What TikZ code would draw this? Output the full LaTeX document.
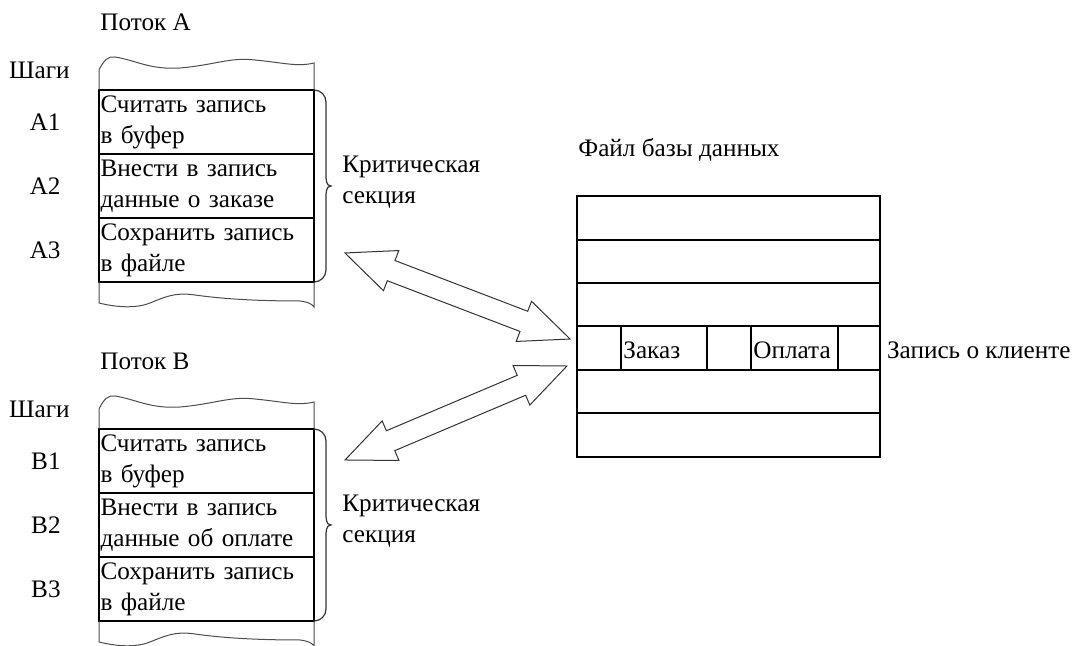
\documentclass[tikz,border=0pt]{standalone}
\usepackage{fontspec}
\setmainfont{Liberation Serif}
\usetikzlibrary{positioning, shapes.arrows}

\tikzset{
  row/.style={draw, line width=0.7pt, anchor=north west, outer sep=0pt,
    minimum width=107.5pt, minimum height=32pt, text width=106pt,
    align=left, inner sep=0.75pt},
  lbl/.style={inner sep=0pt, align=left},
  wave/.style={draw=black!70, line width=0.5pt},
  brc/.style={draw=black!80, line width=0.6pt},
  dbline/.style={line width=0.7pt},
  dblarrow/.style={double arrow, draw=black!80, line width=0.5pt,
    minimum height=120.5pt, inner sep=5.15pt,
    double arrow head extend=5.35pt, double arrow tip angle=47},
}

\begin{document}
\begin{tikzpicture}[x=0.5pt, y=-0.5pt, font=\fontsize{12.6}{15.5}\selectfont]
\useasboundingbox (0,0) rectangle (1073,646);

% Поток A
\node[lbl, anchor=west] (potA) at (100,22) {Поток A};
\node[lbl, anchor=east] (shagA) at (70,70) {Шаги};
\node[row] (a1) at (99,90) {Считать запись\\в буфер};
\node[row, below=0pt of a1] (a2) {Внести в запись\\данные о заказе};
\node[row, below=0pt of a2] (a3) {Сохранить запись\\в файле};
\node[lbl, left=19pt of a1] (sa1) {A1};
\node[lbl, left=19pt of a2] (sa2) {A2};
\node[lbl, left=19pt of a3] (sa3) {A3};
\draw[wave] (a1.north west) -- (99,70) .. controls (104,60) and (108,56) .. (115,57)
  .. controls (135,60) and (150,70) .. (180,68) .. controls (215,65) and (230,57) .. (255,60)
  .. controls (285,63) and (298,67) .. (314,63) -- (a1.north east);
\draw[wave] (a3.south west) -- (99,303) .. controls (115,307) and (135,309) .. (150,303)
  .. controls (165,297) and (175,292) .. (195,295) .. controls (230,300) and (270,301) .. (300,301)
  .. controls (308,302) and (312,304) .. (314,307) -- (a3.south east);
\draw[brc] (a1.north east) to[out=0,in=90] ++(12,12) -- ++(0,72)
  to[out=-90,in=180] ++(5,12) to[out=180,in=90] ++(-5,12) -- ++(0,72)
  to[out=-90,in=0] ++(-12,12);
\node[lbl, anchor=west] (krA) at (342,182) {Критическая\\секция};

% Поток B
\node[lbl, anchor=west] (potB) at (100,361) {Поток B};
\node[lbl, anchor=east] (shagB) at (70,409) {Шаги};
\node[row] (b1) at (99,429) {Считать запись\\в буфер};
\node[row, below=0pt of b1] (b2) {Внести в запись\\данные об оплате};
\node[row, below=0pt of b2] (b3) {Сохранить запись\\в файле};
\node[lbl, left=19pt of b1] (sb1) {B1};
\node[lbl, left=19pt of b2] (sb2) {B2};
\node[lbl, left=19pt of b3] (sb3) {B3};
\begin{scope}[shift={(0,339)}]
\draw[wave] (99,90) -- (99,70) .. controls (104,60) and (108,56) .. (115,57)
  .. controls (135,60) and (150,70) .. (180,68) .. controls (215,65) and (230,57) .. (255,60)
  .. controls (285,63) and (298,67) .. (314,63) -- (314,90);
\draw[wave] (99,282) -- (99,303) .. controls (115,307) and (135,309) .. (150,303)
  .. controls (165,297) and (175,292) .. (195,295) .. controls (230,300) and (270,301) .. (300,301)
  .. controls (308,302) and (312,304) .. (314,307) -- (314,282);
\end{scope}
\draw[brc] (b1.north east) to[out=0,in=90] ++(12,12) -- ++(0,72)
  to[out=-90,in=180] ++(5,12) to[out=180,in=90] ++(-5,12) -- ++(0,72)
  to[out=-90,in=0] ++(-12,12);
\node[lbl, anchor=west] (krB) at (342,521) {Критическая\\секция};

% Файл базы данных
\node[lbl, anchor=west] (fdb) at (578,150) {Файл базы данных};
\draw[dbline] (577,196) rectangle (880,457);
\foreach \y in {240,283,326,370,413}
  \draw[dbline] (577,\y) -- (880,\y);
\foreach \x in {621,707,751,838}
  \draw[dbline] (\x,326) -- (\x,370);
\node[lbl, anchor=west] (zak) at (623,350) {Заказ};
\node[lbl, anchor=west] (opl) at (753,350) {Оплата};
\node[lbl, anchor=east] (zap) at (1071,350) {Запись о клиенте};

% стрелки
\coordinate (crA) at (345,253);
\coordinate (dbA) at (570,339);
\coordinate (crB) at (345,460);
\coordinate (dbB) at (567,366);
\path (crA) -- node[dblarrow, sloped] (arrA) {} (dbA);
\path (crB) -- node[dblarrow, sloped] (arrB) {} (dbB);
\end{tikzpicture}
\end{document}
